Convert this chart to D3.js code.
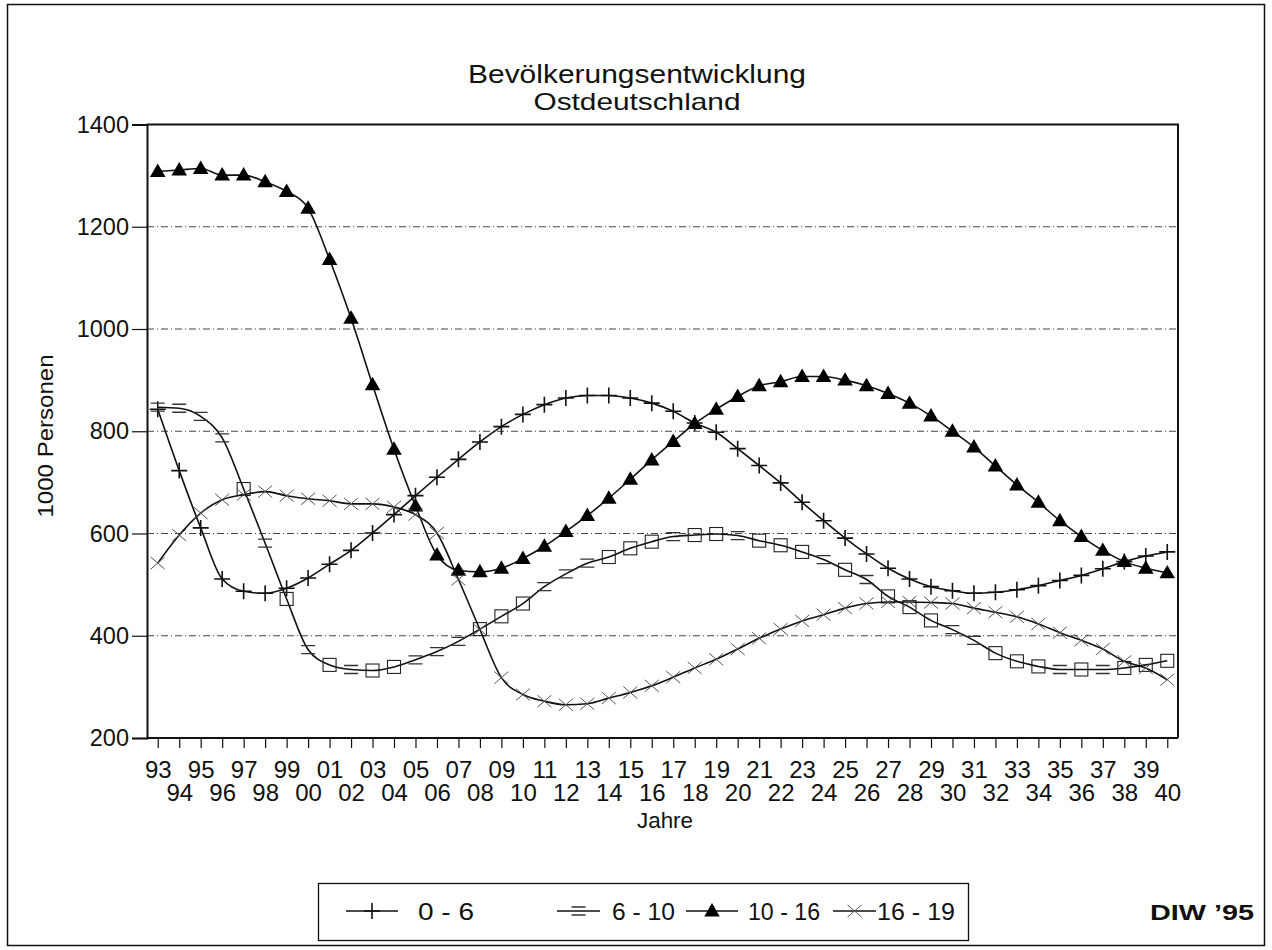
<!DOCTYPE html>
<html>
<head>
<meta charset="utf-8">
<script src="https://cdn.jsdelivr.net/npm/d3@7"></script>
<style>
  body { margin: 0; background: #fff; }
  svg { display: block; font-family: "Liberation Sans", Arial, sans-serif; }
</style>
</head>
<body>
<svg id="chart" width="1272" height="950"></svg>
<script>
'use strict';

// years 1993..2040, shown as two-digit labels
const years = d3.range(1993, 2041);
const yTicks = [200, 400, 600, 800, 1000, 1200, 1400];
const gridValues = [400, 600, 800, 1000, 1200];

// 1000 Personen per age group
const age0to6 = [843, 723, 611, 511, 487, 483, 493, 513, 540, 567, 601, 637, 674, 710, 745, 779,
  809, 833, 852, 865, 870, 870, 865, 855, 839, 816, 798, 766, 733, 699, 661, 625,
  591, 560, 532, 511, 496, 488, 483, 485, 490, 498, 508, 518, 531, 545, 556, 564];
const age6to10 = [847, 845, 829, 787, 687, 581, 472, 373, 343, 334, 332, 339, 353, 369, 389, 413,
  438, 463, 496, 521, 542, 554, 571, 584, 594, 597, 599, 596, 586, 577, 564, 549,
  529, 510, 477, 456, 430, 412, 391, 366, 350, 340, 334, 334, 334, 337, 343, 351];
const age10to16 = [1308, 1311, 1314, 1301, 1301, 1288, 1269, 1236, 1136, 1021, 891, 765, 654, 558, 528, 525,
  532, 551, 575, 604, 635, 669, 706, 744, 780, 815, 843, 868, 889, 897, 907, 907,
  900, 889, 874, 855, 830, 800, 769, 732, 695, 661, 625, 594, 567, 545, 532, 523];
const age16to19 = [542, 597, 640, 666, 676, 682, 674, 668, 664, 658, 658, 652, 637, 601, 510, 412,
  318, 285, 272, 265, 267, 278, 289, 302, 319, 337, 354, 374, 395, 413, 429, 441,
  454, 463, 466, 466, 465, 463, 454, 446, 437, 423, 406, 391, 374, 350, 337, 314];
// points of the 6-10 line where the plotter drew the full box
const boxedYears = [1997, 1999, 2001, 2003, 2004, 2008, 2009, 2010, 2014, 2015, 2016, 2018, 2019,
  2021, 2022, 2023, 2025, 2027, 2028, 2029, 2032, 2033, 2034, 2036, 2038, 2039, 2040];

const seriesNames = ['0 - 6', '6 - 10', '10 - 16', '16 - 19'];
const seriesValues = [age0to6, age6to10, age10to16, age16to19];
const markerKinds = ['plus', 'bars', 'triangle', 'cross'];

const svg = d3.select('#chart');
const W = 1272, H = 950;
const plot = { left: 147, right: 1178, top: 124.5, bottom: 738 };
const FONT = '"Liberation Sans", Arial, sans-serif';

const x = d3.scalePoint().domain(years).range([plot.left, plot.right]).padding(0.5);
const y = d3.scaleLinear().domain([200, 1400]).range([plot.bottom, plot.top]);

// the plotter's lettering is wider than Arial, so stretch text to its measured width
const label = (px, py, size, str, width, anchor) =>
  svg.append('text').attr('x', px).attr('y', py).attr('font-size', size)
    .attr('text-anchor', anchor || 'start')
    .attr('textLength', width).attr('lengthAdjust', 'spacingAndGlyphs')
    .attr('fill', '#111').text(str);

// outer frame
svg.append('rect')
  .attr('x', 7.5).attr('y', 4.5).attr('width', W - 15).attr('height', H - 9)
  .attr('fill', 'none').attr('stroke', '#111').attr('stroke-width', 1.5);

// titles
label(637, 83, 25, 'Bevölkerungsentwicklung', 338, 'middle');
label(637, 110, 24, 'Ostdeutschland', 207, 'middle');

// grid lines
svg.append('g').selectAll('line').data(gridValues).enter().append('line')
  .attr('x1', plot.left).attr('x2', plot.right)
  .attr('y1', (d) => y(d)).attr('y2', (d) => y(d))
  .attr('stroke', '#444').attr('stroke-width', 1)
  .attr('stroke-dasharray', '7,3,1,3');

// plot frame (top and right)
svg.append('path')
  .attr('d', `M${plot.left},${plot.top}H${plot.right}V${plot.bottom}`)
  .attr('fill', 'none').attr('stroke', '#111').attr('stroke-width', 2);

// y axis
const yAxis = svg.append('g')
  .attr('transform', `translate(${plot.left},0)`)
  .call(d3.axisLeft(y).tickValues(yTicks).tickSize(15).tickPadding(3).tickFormat(d3.format('d')));
yAxis.select('.domain').attr('stroke', '#111').attr('stroke-width', 2);
yAxis.selectAll('.tick line').attr('stroke', '#111').attr('stroke-width', 1.2);
yAxis.selectAll('text').attr('font-size', 23.5).attr('fill', '#111').attr('font-family', FONT);

// x axis, labels alternate between two rows
const xAxis = svg.append('g')
  .attr('transform', `translate(0,${plot.bottom})`)
  .call(d3.axisBottom(x).tickSize(10).tickPadding(4)
    .tickFormat((d) => String(d % 100).padStart(2, '0')));
xAxis.select('.domain').attr('stroke', '#111').attr('stroke-width', 2)
  .attr('d', `M${plot.left},0H${plot.right}`);
xAxis.selectAll('.tick line').attr('stroke', '#111').attr('stroke-width', 1.2);
xAxis.selectAll('text')
  .attr('font-size', 24).attr('fill', '#111').attr('font-family', FONT)
  .attr('y', (d, i) => (i % 2 === 0 ? 23 : 46));

// axis titles
label(665, 828, 22, 'Jahre', 56, 'middle');
svg.append('text')
  .attr('transform', 'translate(53,436) rotate(-90)')
  .attr('text-anchor', 'middle').attr('font-size', 22)
  .attr('textLength', 163).attr('lengthAdjust', 'spacingAndGlyphs')
  .attr('fill', '#111').text('1000 Personen');

// markers
const drawMarker = (g, kind, cx, cy, boxed) => {
  if (kind === 'plus') {
    g.append('path').attr('d', `M${cx - 8},${cy}H${cx + 8}M${cx},${cy - 8}V${cy + 8}`)
      .attr('stroke', '#111').attr('stroke-width', 1.6).attr('fill', 'none');
  } else if (kind === 'bars') {
    if (boxed) {
      g.append('rect').attr('x', cx - 6.5).attr('y', cy - 6.5).attr('width', 13).attr('height', 13)
        .attr('fill', 'none').attr('stroke', '#222').attr('stroke-width', 1.1);
    } else {
      g.append('path').attr('d', `M${cx - 7},${cy - 4}H${cx + 7}M${cx - 7},${cy + 4}H${cx + 7}`)
        .attr('stroke', '#333').attr('stroke-width', 1.3).attr('fill', 'none');
    }
  } else if (kind === 'triangle') {
    g.append('path')
      .attr('d', d3.symbol(d3.symbolTriangle, 105)())
      .attr('transform', `translate(${cx},${cy + 1})`)
      .attr('fill', '#000');
  } else {
    g.append('path').attr('d', `M${cx - 7},${cy - 6}L${cx + 7},${cy + 6}M${cx - 7},${cy + 6}L${cx + 7},${cy - 6}`)
      .attr('stroke', '#555').attr('stroke-width', 1).attr('fill', 'none');
  }
};

const line = d3.line()
  .x((d, i) => x(years[i]))
  .y((d) => y(d))
  .curve(d3.curveMonotoneX);

seriesValues.forEach((vals, s) => {
  const g = svg.append('g');
  g.append('path').datum(vals).attr('d', line)
    .attr('fill', 'none').attr('stroke', '#111').attr('stroke-width', 1.6);
  vals.forEach((v, i) => {
    drawMarker(g, markerKinds[s], x(years[i]), y(v), boxedYears.includes(years[i]));
  });
});

// legend
svg.append('rect').attr('x', 318.5).attr('y', 883.5).attr('width', 650).attr('height', 57)
  .attr('fill', '#fff').attr('stroke', '#111').attr('stroke-width', 1.3);
const legendItems = [
  { lineFrom: 346, lineTo: 398, text: 418, width: 56 },
  { lineFrom: 557, lineTo: 600, text: 612, width: 63 },
  { lineFrom: 686, lineTo: 738, text: 748, width: 72 },
  { lineFrom: 833, lineTo: 876, text: 877, width: 78 }
];
const legend = svg.append('g');
legendItems.forEach((it, s) => {
  const ly = 911;
  legend.append('line').attr('x1', it.lineFrom).attr('x2', it.lineTo)
    .attr('y1', ly).attr('y2', ly).attr('stroke', '#111').attr('stroke-width', 1.6);
  drawMarker(legend, markerKinds[s], (it.lineFrom + it.lineTo) / 2, ly, false);
  label(it.text, ly + 9, 23, seriesNames[s], it.width);
});

// source
label(1254, 920, 22.5, 'DIW \u201995', 104, 'end').attr('font-weight', 'bold');
</script>
</body>
</html>
